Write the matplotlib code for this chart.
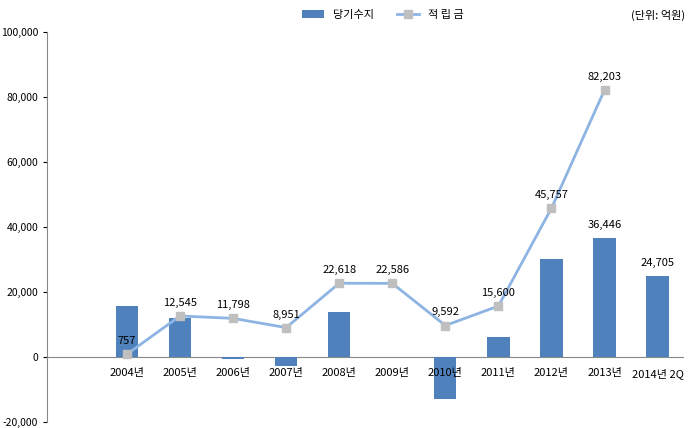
import matplotlib
matplotlib.use("Agg")
import matplotlib.pyplot as plt
plt.rcParams['font.family'] = ['Noto Sans CJK KR']

categories = ["", "2004년", "2005년", "2006년", "2007년", "2008년", "2009년", "2010년", "2011년", "2012년", "2013년", "2014년 2Q"]
balance = [None, 15700, 11800, -800, -2800, 13800, 0, -12900, 6100, 30100, 36446, 24705]
reserve = [None, 757, 12545, 11798, 8951, 22618, 22586, 9592, 15600, 45757, 82203, None]
bar_labels = {10: "36,446", 11: "24,705"}

fig = plt.figure(figsize=(6.96, 4.28), dpi=100)
ax = fig.add_axes([0.068, 0.015, 0.915, 0.91])
bx = [i for i, v in enumerate(balance) if v is not None]
bars = ax.bar(bx, [balance[i] for i in bx], width=0.42, color="#4F81BD", label="당기수지", zorder=2)
lx = [i for i, v in enumerate(reserve) if v is not None]
ly = [reserve[i] for i in lx]
line, = ax.plot(lx, ly, color="#8DB4E2", lw=2, marker="s", ms=6, mfc="#BFBFBF", mec="#BFBFBF", label="적 립 금", zorder=3)
for i, v in zip(lx, ly):
    ax.text(i, v + 2500, f"{v:,}", ha="center", va="bottom", fontsize=8)
for i, t in bar_labels.items():
    ax.text(i, balance[i] + 2500, t, ha="center", va="bottom", fontsize=8)
for i, c in enumerate(categories):
    ax.text(i, -3500, c, ha="center", va="top", fontsize=8)
ax.axhline(0, color="#888888", lw=0.8, zorder=1)
ax.set_xlim(-0.5, len(categories) - 0.5)
ax.set_ylim(-20000, 100000)
ax.set_yticks(range(-20000, 100001, 20000))
ax.set_yticklabels([f"{v:,}" for v in range(-20000, 100001, 20000)], fontsize=7.5)
ax.set_xticks([])
for s in ["top", "right", "bottom"]:
    ax.spines[s].set_visible(False)
ax.spines["left"].set_color("#888888")
ax.tick_params(axis="y", length=3, colors="black")
fig.legend([bars, line], ["당기수지", "적 립 금"], loc="upper center", bbox_to_anchor=(0.55, 1.0), ncol=2, frameon=False, fontsize=8)
fig.text(0.985, 0.955, "(단위: 억원)", ha="right", fontsize=8)
fig.savefig("out.png")
